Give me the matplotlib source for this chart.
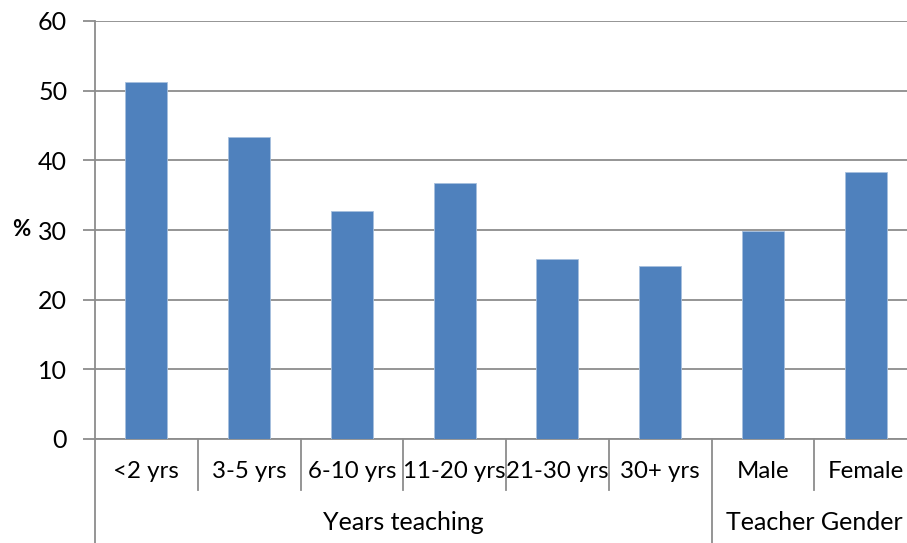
import matplotlib.pyplot as plt
from matplotlib.lines import Line2D
from matplotlib.transforms import blended_transform_factory

plt.rcParams['font.family'] = ['Lato', 'DejaVu Sans']

categories = ['<2 yrs', '3-5 yrs', '6-10 yrs', '11-20 yrs', '21-30 yrs', '30+ yrs', 'Male', 'Female']
values = [51.3, 43.3, 32.7, 36.7, 25.8, 24.9, 29.9, 38.3]
groups = ['Years teaching', 'Teacher Gender']
group_sizes = [6, 2]
yticks = [0, 10, 20, 30, 40, 50, 60]

bar_color = '#4F81BD'
grid_color = '#8C8C8C'
fs = 18

fig = plt.figure(figsize=(9.07, 5.43), dpi=100)
ax = fig.add_axes([95/907, 1 - 439/543, 822/907, 418/543])

n = len(categories)
x = [i + 0.5 for i in range(n)]
ax.bar(x, values, width=0.41, color=bar_color, edgecolor='#A7C0DE', linewidth=0.6, zorder=3)

ax.set_xlim(0, n)
ax.set_ylim(0, 60)
ax.set_yticks(yticks)
ax.yaxis.grid(True, color=grid_color, linewidth=1.3, zorder=0)
ax.set_xticks([])
for s in ['top', 'right']:
    ax.spines[s].set_visible(False)
ax.spines['left'].set_color(grid_color)
ax.spines['left'].set_linewidth(1.3)
ax.spines['bottom'].set_color(grid_color)
ax.spines['bottom'].set_linewidth(1.3)
ax.tick_params(axis='y', length=9, width=1.3, color=grid_color, labelsize=fs, pad=11)

# % label placed in figure coords
fig.text(21/907, 1 - 230/543, '%', ha='center', va='center', fontsize=16, fontweight='bold')

# multi-level category axis
trans = blended_transform_factory(ax.transData, fig.transFigure)
y_axis = 1 - 439/543
y_inner = 1 - 490/543
for i, lab in enumerate(categories):
    ax.text(x[i], 1 - 472/543, lab, transform=trans, ha='center', va='center', fontsize=17.3)
for i in range(n + 1):
    outer = i in (0, group_sizes[0], n)
    ybot = 0 if outer else y_inner
    fig.add_artist(Line2D([i, i], [y_axis, ybot], transform=trans, color=grid_color, linewidth=1.3, clip_on=False))

start = 0
for g, size in zip(groups, group_sizes):
    ax.text(start + size / 2, 1 - 523/543, g, transform=trans, ha='center', va='center', fontsize=fs)
    start += size

fig.savefig('out.png', dpi=100)
